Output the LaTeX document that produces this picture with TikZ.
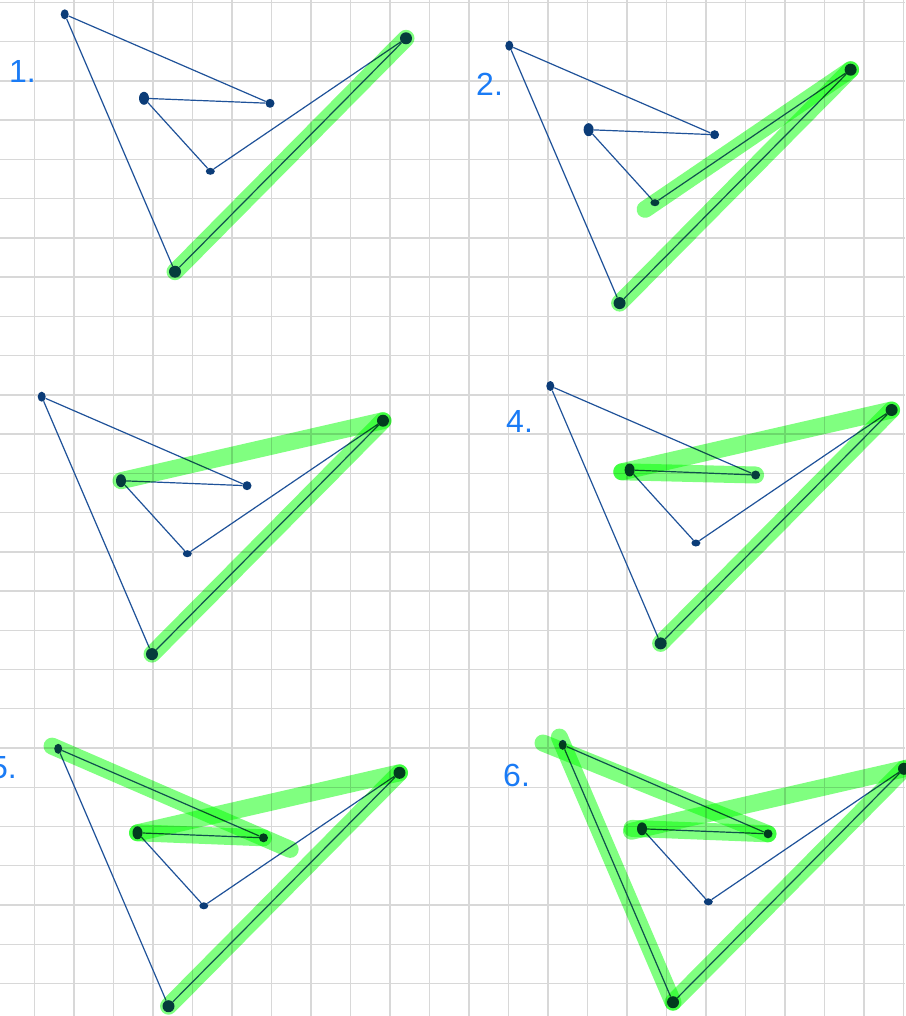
\documentclass[tikz,border=0pt]{standalone}
\usepackage{fontspec}
\newfontfamily\handfont{Liberation Sans}
\usepackage{tikz}
\usetikzlibrary{calc, shapes.geometric}
\definecolor{gridgray}{HTML}{D8D8D8}
\definecolor{linkblue}{HTML}{1F5299}
\definecolor{pointblue}{HTML}{0B3C78}
\definecolor{marker}{HTML}{80FF80}
\definecolor{labelblue}{HTML}{1A7BF5}

\begin{document}
\begin{tikzpicture}[
    x=1pt, y=-1pt,
    gridline/.style={gridgray, line width=1.4pt},
    link/.style={linkblue, line width=1.2pt},
    pointdot/.style 2 args={ellipse, fill=pointblue, inner sep=0pt, minimum width=#1, minimum height=#2},
    marked/.style={marker, line width=17pt, line cap=round},
    numlabel/.style={anchor=base west, inner sep=0pt, text=labelblue, font=\handfont\fontsize{32}{32}\selectfont},
]
    \fill[white] (0,0) rectangle (905,1016);
    \useasboundingbox (0,0) rectangle (905,1016);

    \foreach \k in {0,...,22}
        \draw[gridline] ({34.7+39.49*\k},0) -- ({34.7+39.49*\k},1016);
    \foreach \k in {0,...,25}
        \draw[gridline] (0,{2.45+39.24*\k}) -- (905,{2.45+39.24*\k});

    \foreach \k/\dx/\dy in {1/0/0, 2/444.6/31.4, 3/-23/382.4, 4/485.6/371.7, 5/-6.5/734.5, 6/498/730.5} {
        \begin{scope}[shift={(\dx,\dy)}]
            \node[pointdot={8pt}{10pt}] (apex\k) at (64.7,14.3) {};
            \node[pointdot={10pt}{13pt}] (inl\k) at (144,98.3) {};
            \node[pointdot={9pt}{9pt}] (inr\k) at (270,103.3) {};
            \node[pointdot={9pt}{7pt}] (inb\k) at (210.3,171.3) {};
            \node[pointdot={12pt}{12pt}] (bottom\k) at (175,271.7) {};
            \node[pointdot={12pt}{12pt}] (tip\k) at (406,38.3) {};
        \end{scope}
        \draw[link] (apex\k) -- (bottom\k) -- (tip\k) -- (inb\k) -- (inl\k) -- (inr\k) -- (apex\k);
    }

    \node[numlabel] (lab1) at (9,83) {1.};
    \node[numlabel] (lab2) at (476,96) {2.};
    \node[numlabel] (lab4) at (506,432) {4.};
    \node[numlabel] (lab5) at (-10,778) {5.};
    \node[numlabel] (lab6) at (503,786) {6.};

    \coordinate (f2end) at ($(tip2)!1.05!(inb2)$);
    \coordinate (d4end) at ($(tip4)!1.03!(inl4)$);
    \coordinate (a5start) at ($(inr5)!1.03!(apex5)$);
    \coordinate (e5end) at ($(apex5)!1.13!(inr5)$);
    \coordinate (a6start) at (543,743);
    \coordinate (a6top) at ($(bottom6)!1.03!(apex6)$);
    \coordinate (c6end) at ($(inl6)!1.04!(tip6)$);
    \coordinate (d6left) at ($(tip6)!1.04!(inl6)$);
    \coordinate (d6end) at ($(inr6)!1.08!(inl6)$);

    \begin{scope}[blend mode=multiply]
        \draw[marked] (bottom1.center) -- (tip1.center);

        \draw[marked] (bottom2.center) -- (tip2.center);
        \draw[marked] (tip2.center) -- (f2end);

        \draw[marked] (bottom3.center) -- (tip3.center);
        \draw[marked] (tip3.center) -- (inl3.center);

        \draw[marked] (bottom4.center) -- (tip4.center);
        \draw[marked] (tip4.center) -- (d4end);
        \draw[marked] (d4end) -- (inr4.center);

        \draw[marked] (bottom5.center) -- (tip5.center);
        \draw[marked] (tip5.center) -- (inl5.center);
        \draw[marked] (inl5.center) -- (inr5.center);
        \draw[marked] (a5start) -- (e5end);

        \draw[marked] (bottom6.center) -- (tip6.center);
        \draw[marked] (c6end) -- (d6left);
        \draw[marked] (d6end) -- (inr6.center);
        \draw[marked] (a6start) -- (inr6.center);
        \draw[marked] (a6top) -- (bottom6.center);
    \end{scope}
\end{tikzpicture}
\end{document}
